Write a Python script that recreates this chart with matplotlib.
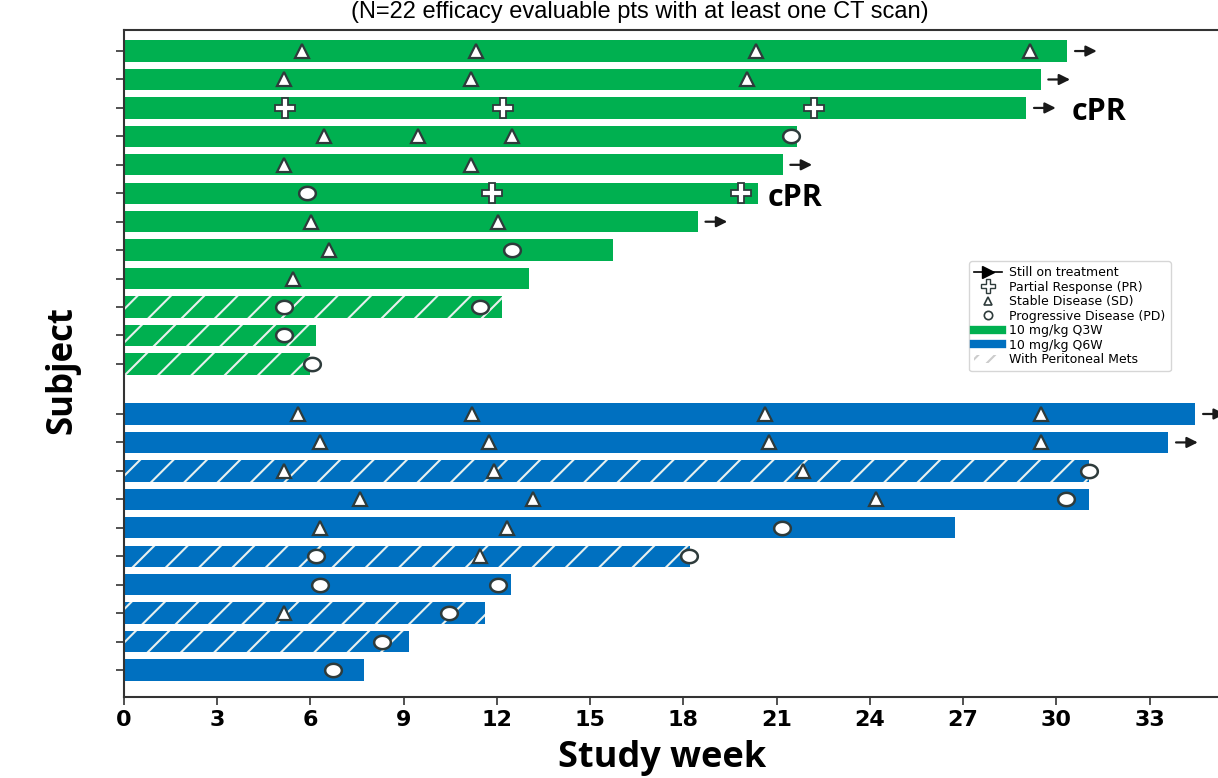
import matplotlib
matplotlib.use("Agg")
import matplotlib.pyplot as plt
from matplotlib.lines import Line2D
from matplotlib.patches import Patch
from matplotlib.path import Path
import numpy as np

# ---------------- data (top to bottom within each group) ----------------
green_end = [30.35, 29.49, 29.03, 21.64, 21.19, 20.39, 18.46, 15.72, 13.02, 12.15, 6.17, 5.98]
green_hatch = [False, False, False, False, False, False, False, False, False, True, True, True]
green_ongoing = [True, True, True, False, True, False, True, False, False, False, False, False]
green_sd = [[5.72, 11.32, 20.32, 29.16], [5.14, 11.16, 20.03], [], [6.43, 9.45, 12.48],
            [5.14, 11.16], [], [6.01, 12.03], [6.59], [5.43], [], [], []]
green_pr = [[], [], [5.18, 12.19, 22.19], [], [], [11.83, 19.84], [], [], [], [], [], []]
green_pd = [[], [], [], [21.45], [], [5.88], [], [12.48], [], [5.14, 11.45], [5.14], [6.05]]

blue_end = [34.47, 33.60, 31.06, 31.06, 26.75, 18.20, 12.44, 11.60, 9.16, 7.72]
blue_hatch = [False, False, True, False, False, True, False, True, True, False]
blue_ongoing = [True, True, False, False, False, False, False, False, False, False]
blue_sd = [[5.60, 11.19, 20.61, 29.49], [6.30, 11.74, 20.74, 29.49], [5.14, 11.90, 21.86],
           [7.59, 13.15, 24.21], [6.30, 12.32], [11.45], [], [5.14], [], []]
blue_pr = [[] for _ in range(10)]
blue_pd = [[], [], [31.06], [30.32], [21.16], [6.17, 18.17], [6.30, 12.03], [10.45], [8.30], [6.72]]

cpr_rows = [2, 5]          # green rows (from top) with a cPR label
cpr_x = [30.5, 20.7]

xticks = list(range(0, 34, 3))
title = "(N=22 efficacy evaluable pts with at least one CT scan)"

GREEN = "#00B050"
BLUE = "#0070C0"
EDGE = "#2E3B3B"

# slightly wide ellipse marker for PD
_t = np.linspace(0, 2 * np.pi, 60)
ELLIPSE = Path(np.column_stack([1.25 * np.cos(_t), np.sin(_t)]), closed=True)

# ---------------- figure ----------------
plt.rcParams['hatch.linewidth'] = 1.5
fig = plt.figure(figsize=(12.18, 7.78), dpi=100)
ax = fig.add_axes([124 / 1218, (778 - 697) / 778, 1 - 124 / 1218, (697 - 30) / 778])

blue_y = [9 - i for i in range(len(blue_end))]
green_y = [10.76 + (len(green_end) - 1 - i) for i in range(len(green_end))]

bar_h = 0.75


def draw_group(ys, ends, hatches, ongoing, sd, pr, pd, color):
    for y, e, h, og, s, p, d in zip(ys, ends, hatches, ongoing, sd, pr, pd):
        if h:
            ax.barh(y, e, height=bar_h, color=color, edgecolor="#e8f0ee", linewidth=0,
                    hatch="/", zorder=2)
        else:
            ax.barh(y, e, height=bar_h, color=color, linewidth=0, zorder=2)
        if og:
            ax.annotate("", xy=(e + 0.95, y), xytext=(e + 0.25, y),
                        arrowprops=dict(arrowstyle="-|>", color="#1a1a1a", lw=1.6,
                                        mutation_scale=16, shrinkA=0, shrinkB=0),
                        annotation_clip=False, zorder=4)
        if s:
            ax.plot(s, [y] * len(s), linestyle="none", marker="^", markersize=10,
                    markerfacecolor="white", markeredgecolor=EDGE, markeredgewidth=1.6, zorder=3)
        if p:
            ax.plot(p, [y] * len(p), linestyle="none", marker="P", markersize=15,
                    markerfacecolor="white", markeredgecolor=EDGE, markeredgewidth=1.3, zorder=3)
        if d:
            ax.plot(d, [y] * len(d), linestyle="none", marker=ELLIPSE, markersize=12,
                    markerfacecolor="white", markeredgecolor=EDGE, markeredgewidth=1.8, zorder=3)


draw_group(green_y, green_end, green_hatch, green_ongoing, green_sd, green_pr, green_pd, GREEN)
draw_group(blue_y, blue_end, blue_hatch, blue_ongoing, blue_sd, blue_pr, blue_pd, BLUE)

for r, cx in zip(cpr_rows, cpr_x):
    ax.text(cx, green_y[r] - 0.15, "cPR", fontsize=22, fontweight="bold", family="Open Sans",
            va="center", ha="left", zorder=5)

ax.set_xlim(0, 35.2)
ax.set_ylim(-0.95, 22.5)
ax.set_xticks(xticks)
ax.set_xticklabels([str(t) for t in xticks], fontsize=16, fontweight="bold")
ax.set_yticks(blue_y + green_y)
ax.set_yticklabels([])
ax.tick_params(axis="both", direction="out", length=6, width=1.2, colors="#333333")
ax.tick_params(axis="x", labelcolor="black", pad=3)
for sp in ["left", "bottom", "top"]:
    ax.spines[sp].set_linewidth(1.5)
    ax.spines[sp].set_color("#333333")
ax.spines["right"].set_visible(False)

fig.text(62 / 1218, (778 - 370) / 778, "Subject", rotation=90, fontsize=25, fontweight="bold",
         family="Open Sans", ha="center", va="center")
fig.text(662 / 1218, 2 / 778, "Study week", fontsize=26, fontweight="bold",
         family="Open Sans", ha="center", va="bottom")
fig.text(640 / 1218, 1 - 1 / 778, title, fontsize=17, family="Liberation Sans",
         ha="center", va="top")

handles = [
    Line2D([0], [0], color="black", lw=1.2, marker=">", markersize=8, markevery=[1]),
    Line2D([0], [0], linestyle="none", marker="P", markersize=10, markerfacecolor="white",
           markeredgecolor=EDGE, markeredgewidth=1.0),
    Line2D([0], [0], linestyle="none", marker="^", markersize=6, markerfacecolor="white",
           markeredgecolor=EDGE, markeredgewidth=1.2),
    Line2D([0], [0], linestyle="none", marker="o", markersize=6, markerfacecolor="white",
           markeredgecolor=EDGE, markeredgewidth=1.2),
    Line2D([0], [0], color=GREEN, lw=6),
    Line2D([0], [0], color=BLUE, lw=6),
    Patch(facecolor="white", edgecolor="#cccccc", hatch="//", linewidth=0),
]
labels = ["Still on treatment", "Partial Response (PR)", "Stable Disease (SD)",
          "Progressive Disease (PD)", "10 mg/kg Q3W", "10 mg/kg Q6W", "With Peritoneal Mets"]
leg = fig.legend(handles, labels, loc="upper left", bbox_to_anchor=(963 / 1218, (778 - 255) / 778),
                 fontsize=9, frameon=True, fancybox=True, edgecolor="#cccccc",
                 handlelength=2.2, labelspacing=0.12, borderpad=0.4, handletextpad=0.6)
leg.get_frame().set_linewidth(1.0)

fig.savefig("out.png", dpi=100)
